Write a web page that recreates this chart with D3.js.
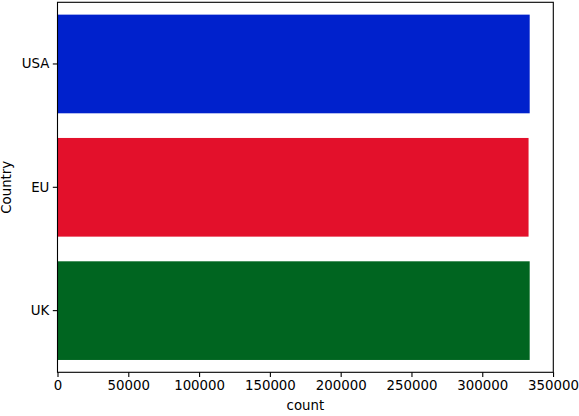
<!DOCTYPE html>
<html><head><meta charset="utf-8">
<script src="https://cdn.jsdelivr.net/npm/d3@7"></script>
<style>body{margin:0;background:#fff}svg{display:block}text{font-family:"DejaVu Sans",sans-serif}</style>
</head><body>
<svg id="c" width="579" height="416"></svg>
<script>
const categories = ["USA", "EU", "UK"];
const counts = [333500, 332700, 333500];
const colors = ["#0021cc", "#e3102b", "#006520"];
const xTicks = [0, 50000, 100000, 150000, 200000, 250000, 300000, 350000];

const svg = d3.select("#c");
const m = {l: 57.5, r: 553.3, t: 2.3, b: 372.3};
const x = d3.scaleLinear().domain([0, d3.max(counts) * 1.05]).range([m.l, m.r]);
const y = d3.scaleBand().domain(categories).range([m.t, m.b]).paddingInner(0.2).paddingOuter(0.1);

svg.selectAll("rect.bar").data(categories).join("rect")
  .attr("class", "bar")
  .attr("x", x(0))
  .attr("y", d => y(d))
  .attr("width", (d, i) => x(counts[i]) - x(0))
  .attr("height", y.bandwidth())
  .attr("fill", (d, i) => colors[i]);

const fs = "13.33px";
const xa = svg.append("g").attr("transform", `translate(0,${m.b})`)
  .call(d3.axisBottom(x).tickValues(xTicks).tickFormat(d3.format("d")).tickSize(4.7).tickPadding(3.5));
xa.select(".domain").remove();
xa.selectAll("line").attr("stroke", "#000").attr("stroke-width", 1.1);
xa.selectAll("text").attr("font-size", fs).attr("fill", "#000").attr("font-family", "DejaVu Sans");

const ya = svg.append("g").attr("transform", `translate(${m.l},0)`)
  .call(d3.axisLeft(y).tickSize(4.7).tickPadding(3.5));
ya.select(".domain").remove();
ya.selectAll("line").attr("stroke", "#000").attr("stroke-width", 1.1);
ya.selectAll("text").attr("font-size", fs).attr("fill", "#000").attr("font-family", "DejaVu Sans");

svg.append("rect").attr("x", m.l).attr("y", m.t).attr("width", m.r - m.l).attr("height", m.b - m.t)
  .attr("fill", "none").attr("stroke", "#000").attr("stroke-width", 1.1);

svg.append("text").attr("x", (m.l + m.r) / 2).attr("y", 410).attr("text-anchor", "middle")
  .attr("font-size", fs).text("count");
svg.append("text").attr("transform", `translate(11,${(m.t + m.b) / 2}) rotate(-90)`).attr("text-anchor", "middle")
  .attr("font-size", fs).text("Country");
</script>
</body></html>
